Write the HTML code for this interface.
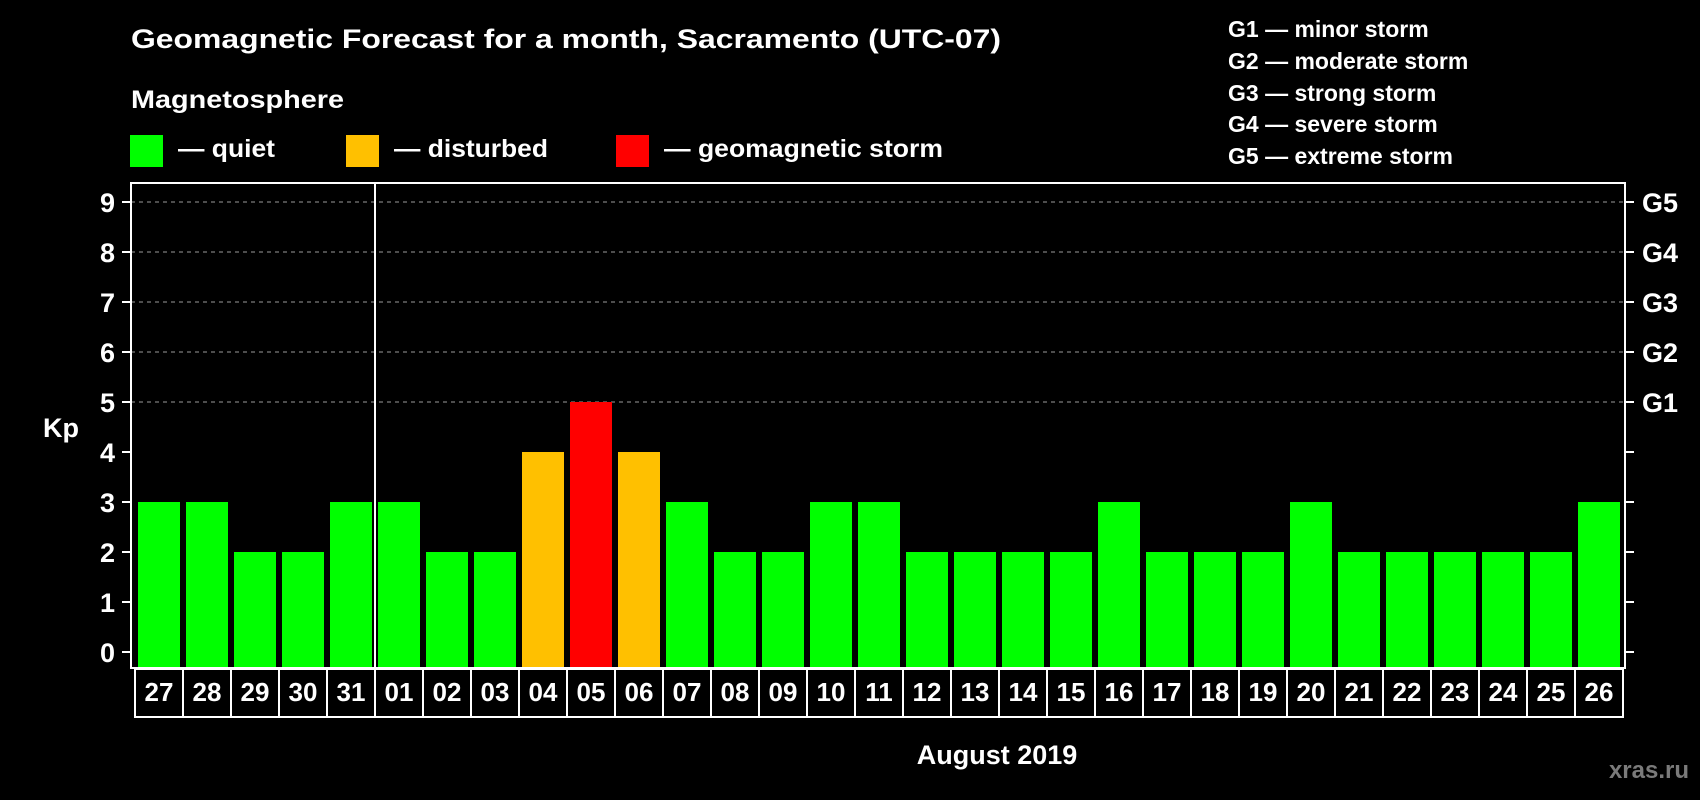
<!DOCTYPE html>
<html><head><meta charset="utf-8"><style>
html,body{margin:0;padding:0;background:#000;}
svg{display:block;font-family:"Liberation Sans",Arial,sans-serif;font-weight:bold;}
</style></head><body>
<svg id="chart" width="1700" height="800" viewBox="0 0 1700 800" xmlns="http://www.w3.org/2000/svg">
<rect width="1700" height="800" fill="#000"/>
<text x="131" y="48" font-size="27" fill="#fff" textLength="870" lengthAdjust="spacingAndGlyphs">Geomagnetic Forecast for a month, Sacramento (UTC-07)</text>
<text x="131" y="108" font-size="25" fill="#fff" textLength="213" lengthAdjust="spacingAndGlyphs">Magnetosphere</text>
<g>
<rect x="130" y="135" width="33" height="32" fill="#00ff00"/>
<text x="178" y="157" font-size="25" fill="#fff" textLength="97" lengthAdjust="spacingAndGlyphs">— quiet</text></g>
<g>
<rect x="346" y="135" width="33" height="32" fill="#ffc000"/>
<text x="394" y="157" font-size="25" fill="#fff" textLength="154" lengthAdjust="spacingAndGlyphs">— disturbed</text></g>
<g>
<rect x="616" y="135" width="33" height="32" fill="#ff0000"/>
<text x="664" y="157" font-size="25" fill="#fff" textLength="279" lengthAdjust="spacingAndGlyphs">— geomagnetic storm</text></g>
<g font-size="23" fill="#fff">
<text x="1228" y="37">G1 — minor storm</text>
<text x="1228" y="69">G2 — moderate storm</text>
<text x="1228" y="101">G3 — strong storm</text>
<text x="1228" y="132">G4 — severe storm</text>
<text x="1228" y="164">G5 — extreme storm</text>
</g>
<text x="43" y="437" font-size="27" fill="#fff">Kp</text>
<g id="grid"></g><g id="bars"></g><g id="axes"></g>
<text x="997" y="764" font-size="27" fill="#fff" text-anchor="middle">August 2019</text>
<text x="1689" y="778" font-size="24" fill="#7a7a7a" text-anchor="end">xras.ru</text>
</svg>
<script>
const days = ["27","28","29","30","31","01","02","03","04","05","06","07","08","09","10","11","12","13","14","15","16","17","18","19","20","21","22","23","24","25","26"];
const kpValues = [3,3,2,2,3,3,2,2,4,5,4,3,2,2,3,3,2,2,2,2,3,2,2,2,3,2,2,2,2,2,3];
const yTicks = [0,1,2,3,4,5,6,7,8,9];
const gLabels = ["G1","G2","G3","G4","G5"];
const gLevels = [5,6,7,8,9];

const NS="http://www.w3.org/2000/svg";
const y0=652, unit=50, slot0=135, pitch=48, barW=42;
const plotL=131, plotR=1625, plotT=183, plotB=668;
const yScale=v=>y0-v*unit;
const xScale=i=>slot0+i*pitch;
function mk(tag,attrs,parent){const e=document.createElementNS(NS,tag);for(const k in attrs)e.setAttribute(k,attrs[k]);parent.appendChild(e);return e;}
const grid=document.getElementById('grid'),bars=document.getElementById('bars'),axes=document.getElementById('axes');
gLevels.forEach((lv,i)=>{
  const l=mk('line',{x1:plotL,x2:plotR,y1:yScale(lv),y2:yScale(lv),stroke:'#9a9a9a','stroke-width':1,'stroke-dasharray':'4,4'},grid);
  
  
  const t=mk('text',{x:1642,y:yScale(lv)+10,'font-size':27,fill:'#fff'},axes);
  t.textContent=gLabels[i];
  
  
});
kpValues.forEach((v,i)=>{
  const c=v>=5?'#ff0000':(v>=4?'#ffc000':'#00ff00');
  const r=mk('rect',{x:xScale(i)+3,y:yScale(v),width:barW,height:plotB-yScale(v)-1,fill:c},bars);
  
  
  const cell=mk('rect',{x:xScale(i),y:669,width:pitch,height:48,fill:'none',stroke:'#fff','stroke-width':2},axes);
  
  
  const t=mk('text',{x:xScale(i)+pitch/2,y:701,'font-size':26,fill:'#fff','text-anchor':'middle'},axes);
  t.textContent=days[i];
  
  
});
const box=mk('rect',{x:plotL,y:plotT,width:plotR-plotL,height:plotB-plotT,fill:'none',stroke:'#fff','stroke-width':2},axes);


const div=mk('line',{x1:375,x2:375,y1:plotT,y2:plotB,stroke:'#fff','stroke-width':2},axes);


yTicks.forEach(v=>{
  const tl=mk('line',{x1:122,x2:plotL,y1:yScale(v),y2:yScale(v),stroke:'#fff','stroke-width':2},axes);
  
  
  const tr=mk('line',{x1:plotR,x2:1634,y1:yScale(v),y2:yScale(v),stroke:'#fff','stroke-width':2},axes);
  
  
  const t=mk('text',{x:115,y:yScale(v)+10,'font-size':27,fill:'#fff','text-anchor':'end'},axes);
  t.textContent=v;
  
  
});
</script>
</body></html>
